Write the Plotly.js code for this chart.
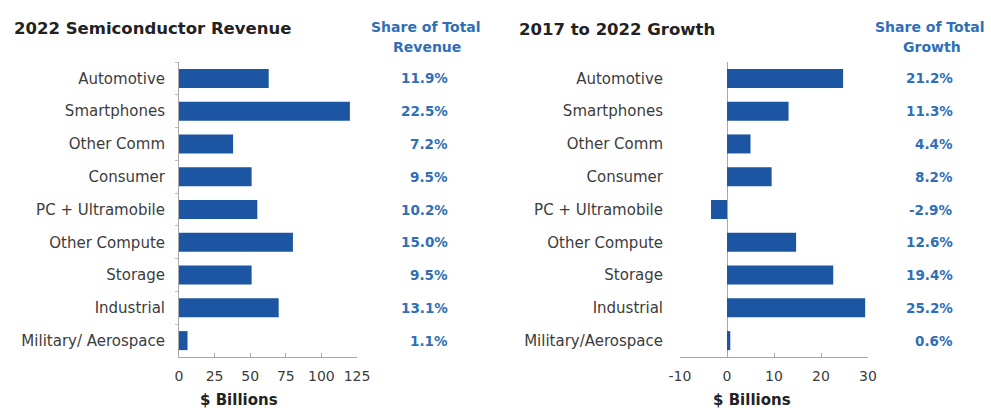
<!DOCTYPE html>
<html>
<head>
<meta charset="utf-8">
<script src="https://cdn.plot.ly/plotly-3.0.1.min.js"></script>
<style>html,body{margin:0;padding:0;background:#fff;}#chart{width:991px;height:408px;}</style>
</head>
<body>
<div id="chart"></div>
<script>
// ---- Data ----
const revenueCategories = ['Automotive','Smartphones','Other Comm','Consumer','PC + Ultramobile','Other Compute','Storage','Industrial','Military/ Aerospace'];
const growthCategories = ['Automotive','Smartphones','Other Comm','Consumer','PC + Ultramobile','Other Compute','Storage','Industrial','Military/Aerospace'];
const revenue2022 = [63, 120, 38, 51, 55, 80, 51, 70, 6];          // $ Billions
const growth2017to2022 = [24.7, 13.1, 5.0, 9.5, -3.4, 14.7, 22.6, 29.4, 0.7]; // $ Billions
const revenueShare = ['11.9%','22.5%','7.2%','9.5%','10.2%','15.0%','9.5%','13.1%','1.1%'];
const growthShare = ['21.2%','11.3%','4.4%','8.2%','-2.9%','12.6%','19.4%','25.2%','0.6%'];
const revenueTicks = [0, 25, 50, 75, 100, 125];
const revenueTickLabels = ['0','25','50','75','100','125'];
const growthTicks = [-10, 0, 10, 20, 30];
const growthTickLabels = ['-10','0','10','20','30'];

// ---- Styling ----
const W = 991, H = 408;
const FONT = 'DejaVu Sans, Verdana, sans-serif';
const barColor = '#1c55a2';
const blue = '#2f6fb6';
const gray = '#3c3c3c';
const axisColor = '#a8a8a8';
const px = v => v / W;
const py = v => 1 - v / H;

const traces = [
  {type:'bar', orientation:'h', x: revenue2022, y: revenueCategories, xaxis:'x', yaxis:'y',
   marker:{color: barColor}, hoverinfo:'x+y'},
  {type:'bar', orientation:'h', x: growth2017to2022, y: growthCategories, xaxis:'x2', yaxis:'y2',
   marker:{color: barColor}, hoverinfo:'x+y'}
];

const yDomain = [py(357), py(62)];

const annotations = [];
revenueCategories.forEach((c, i) => annotations.push({
  xref:'paper', yref:'y', x: px(450), y: c, xanchor:'right', yanchor:'middle',
  text: revenueShare[i], showarrow:false, font:{family:FONT, size:13.5, color:blue, weight:'bold'}
}));
growthCategories.forEach((c, i) => annotations.push({
  xref:'paper', yref:'y2', x: px(955), y: c, xanchor:'right', yanchor:'middle',
  text: growthShare[i], showarrow:false, font:{family:FONT, size:13.5, color:blue, weight:'bold'}
}));
const titleFont = {family:FONT, size:16.5, color:'#222', weight:'bold'};
const headFont = {family:FONT, size:14, color:blue, weight:'bold'};
const axTitleFont = {family:FONT, size:15, color:'#222', weight:'bold'};
annotations.push(
  {xref:'paper', yref:'paper', x:px(12), y:py(29), xanchor:'left', yanchor:'middle', text:'2022 Semiconductor Revenue', showarrow:false, font:titleFont},
  {xref:'paper', yref:'paper', x:px(517), y:py(30), xanchor:'left', yanchor:'middle', text:'2017 to 2022 Growth', showarrow:false, font:titleFont},
  {xref:'paper', yref:'paper', x:px(426), y:py(27), xanchor:'center', yanchor:'middle', text:'Share of Total', showarrow:false, font:headFont},
  {xref:'paper', yref:'paper', x:px(427), y:py(47), xanchor:'center', yanchor:'middle', text:'Revenue', showarrow:false, font:headFont},
  {xref:'paper', yref:'paper', x:px(930), y:py(27), xanchor:'center', yanchor:'middle', text:'Share of Total', showarrow:false, font:headFont},
  {xref:'paper', yref:'paper', x:px(932), y:py(47), xanchor:'center', yanchor:'middle', text:'Growth', showarrow:false, font:headFont},
  {xref:'paper', yref:'paper', x:px(239), y:py(400), xanchor:'center', yanchor:'middle', text:'$ Billions', showarrow:false, font:axTitleFont},
  {xref:'paper', yref:'paper', x:px(752), y:py(400), xanchor:'center', yanchor:'middle', text:'$ Billions', showarrow:false, font:axTitleFont}
);

const xTickFont = {family:FONT, size:14, color:gray};
const yTickFont = {family:FONT, size:15, color:gray};

const layout = {
  width: W, height: H,
  margin:{l:0, r:0, t:0, b:0, pad:0},
  paper_bgcolor:'#fff', plot_bgcolor:'#fff',
  showlegend:false, bargap:0.42,
  xaxis:{domain:[px(179), px(357)], anchor:'y', range:[0,125], tickmode:'array', tickvals: revenueTicks, ticktext: revenueTickLabels,
    showline:true, linecolor:axisColor, linewidth:1, ticks:'inside', ticklen:4, tickcolor:axisColor,
    showgrid:false, zeroline:false, tickfont:xTickFont, ticklabelstandoff:6, fixedrange:true},
  yaxis:{domain:yDomain, anchor:'x', type:'category', autorange:'reversed',
    showline:true, linecolor:axisColor, linewidth:1, ticks:'outside', tickson:'boundaries', ticklen:3, tickcolor:'#c8b8a8',
    showgrid:false, zeroline:false, tickfont:yTickFont, ticklabelstandoff:10, fixedrange:true},
  xaxis2:{domain:[px(680), px(868)], anchor:'y2', range:[-10,30], tickmode:'array', tickvals: growthTicks, ticktext: growthTickLabels,
    showline:true, linecolor:axisColor, linewidth:1, ticks:'inside', ticklen:4, tickcolor:axisColor,
    showgrid:false, zeroline:true, zerolinecolor:axisColor, zerolinewidth:1, tickfont:xTickFont, ticklabelstandoff:6, fixedrange:true},
  yaxis2:{domain:yDomain, anchor:'x2', type:'category', autorange:'reversed',
    showline:false, ticks:'', showgrid:false, zeroline:false, tickfont:yTickFont, ticklabelstandoff:16, fixedrange:true},
  annotations: annotations
};

Plotly.newPlot('chart', traces, layout, {displayModeBar:false, staticPlot:true});
</script>
</body>
</html>
